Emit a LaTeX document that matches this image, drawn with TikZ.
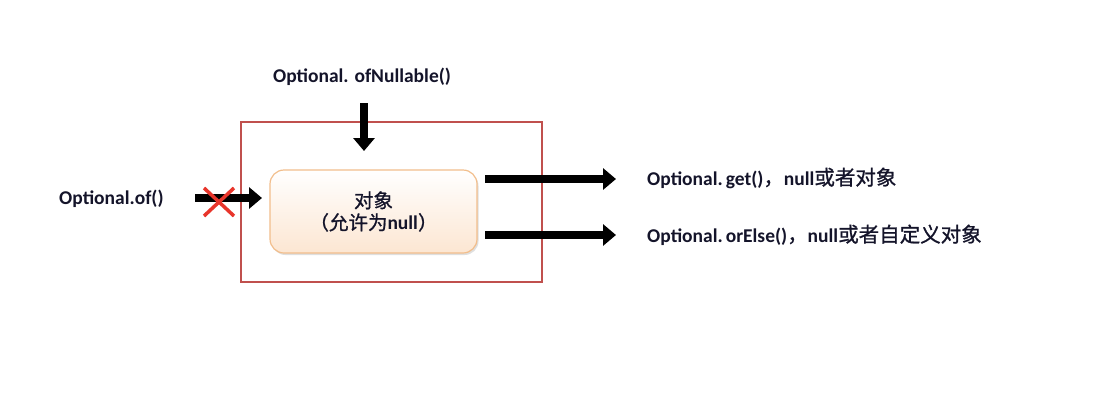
\documentclass[tikz,border=0pt]{standalone}
\usepackage{fontspec}
\setmainfont{Carlito}
\newfontfamily\cjk{Noto Sans CJK SC}[FakeBold=1]
\usetikzlibrary{arrows.meta,shadows,calc}
\definecolor{txt}{HTML}{14142A}
\definecolor{framered}{HTML}{C0504D}
\definecolor{boxline}{HTML}{F2BE8C}
\definecolor{boxfill}{HTML}{FCE6D2}
\definecolor{xred}{HTML}{E8352B}
\newcommand{\cjkbig}{\cjk\mdseries\fontsize{20.5}{22}\selectfont}
\tikzset{
  lbl/.style={font=\fontsize{19.5}{22}\selectfont\bfseries, text=txt, inner sep=0pt},
  fat/.style={line width=8pt, -{Triangle[length=13pt,width=21pt]}, black},
  objbox/.style={draw=boxline, line width=1.2pt, rounded corners=14pt,
    top color=white, bottom color=boxfill, minimum width=207pt, minimum height=83pt,
    align=center, inner sep=0pt,
    drop shadow={shadow xshift=1.5pt, shadow yshift=-2pt, opacity=0.25, fill=gray}},
  outer/.style={draw=none, minimum width=300pt, minimum height=159pt, inner sep=0pt},
}
\begin{document}
\begin{tikzpicture}[x=1pt,y=-1pt]
\useasboundingbox (0,0) rectangle (1103,408);
\fill[white] (0,0) rectangle (1103,408);
% frame
\node[outer] (fr) at (391.5,202) {};
\draw[color=framered, line width=1.8pt] (fr.north west) rectangle (fr.south east);
% object box
\node[objbox, font=\fontsize{19.5}{22}\selectfont, text=txt] (obj) at (373.5,211.5)
  {{\cjk 对象}\\[0pt]{\cjk （允许为}\textbf{null}{\cjk ）}};
% labels
\node[lbl, anchor=base west] (of) at (59,204) {Optional.of()};
\node[lbl, anchor=base] (ofn) at (362,82) {Optional. ofNullable()};
\node[lbl, anchor=base west] (get) at (647,185) {Optional.\hspace{3pt}get(){\cjkbig ，}null{\cjkbig 或者对象}};
\node[lbl, anchor=base west] (orelse) at (647,242) {Optional.\hspace{3pt}orElse(){\cjkbig ，}null{\cjkbig 或者自定义对象}};
% arrow anchor coordinates
\coordinate (a1s) at (195,198);
\coordinate (a1e) at (262,198);
\coordinate (a2s) at (364,103);
\coordinate (a2e) at (364,151);
\coordinate (a3s) at (485,179);
\coordinate (a3e) at (616,179);
\coordinate (a4s) at (485,235);
\coordinate (a4e) at (616,235);
\draw[fat] (a1s) -- (a1e);
\draw[fat] (a2s) -- (a2e);
\draw[fat] (a3s) -- (a3e);
\draw[fat] (a4s) -- (a4e);
% red cross
\coordinate (xc) at (219,202);
\draw[xred, line width=3.5pt] ($(xc)+(-15,-14)$) -- ($(xc)+(15,14)$);
\draw[xred, line width=3.5pt] ($(xc)+(-15,14)$) -- ($(xc)+(15,-14)$);
\end{tikzpicture}
\end{document}
